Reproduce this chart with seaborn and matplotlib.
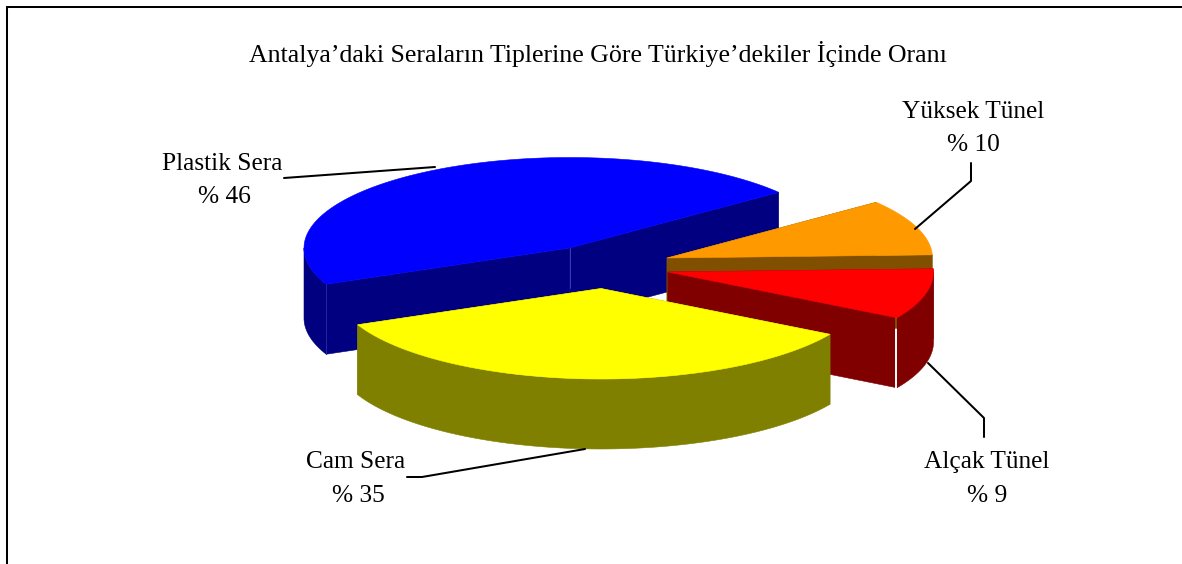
import numpy as np
import matplotlib
matplotlib.use("Agg")
import matplotlib.pyplot as plt
import seaborn as sns

# ---- data ----
categories = ["Yüksek Tünel", "Plastik Sera", "Cam Sera", "Alçak Tünel"]
shares = [10, 46, 35, 9]
top_colors = ["#FF9900", "#0000FF", "#FFFF00", "#FF0000"]
side_colors = ["#805000", "#000080", "#808000", "#800000"]
title_text = "Antalya\u2019daki Seraların Tiplerine Göre Türkiye\u2019dekiler İçinde Oranı"

# ---- layout (pixels) ----
W, H = 1182, 564
START = 2.0
RX, RY, DEPTH = 265.5, 90.5, 70
APEX = [(667, 258), (569.5, 248), (601, 288.5), (668, 272)]
LABEL = [(973, 112), (222, 164), (356, 462), (987, 462)]
PCT = [(973, 145), (224, 197), (358, 496), (987, 496)]
LEAD = [[(915, 229), (971, 181), (971, 163)],
        [(435, 167), (284, 178)],
        [(585, 449), (422, 477), (407, 477)],
        [(928, 363), (984, 418), (984, 437)]]

sns.set_theme(style="white")
plt.rcParams["font.family"] = ["Liberation Serif", "DejaVu Serif"]
fig = plt.figure(figsize=(W / 100, H / 100), dpi=100)
ax = fig.add_axes([0, 0, 1, 1])
ax.set_xlim(0, W); ax.set_ylim(H, 0); ax.axis("off")

# frame: left and top edges only, the others run off the picture
ax.plot([7, 7, W + 2], [H + 2, 7, 7], color="black", lw=1.45, solid_joinstyle="miter")

def arc(c, a, b):
    t = np.radians(np.linspace(a, b, 120))
    return np.column_stack([c[0] + RX * np.cos(t), c[1] - RY * np.sin(t)])

def wall(p, q, color, z):
    p, q = np.atleast_2d(p), np.atleast_2d(q)
    line = np.vstack([p, q])
    poly = np.vstack([line, line[::-1] + [0, DEPTH]])
    ax.fill(poly[:, 0], poly[:, 1], color=color, lw=0.4, zorder=z)

spans = np.cumsum([0] + shares) * 3.6 + START
draw_order = [1, 0, 3, 2]
for z, i in enumerate(draw_order):
    a, b = spans[i], spans[i + 1]
    c = np.array(APEX[i], float)
    rim = arc(c, a, b)
    side, top = side_colors[i], top_colors[i]
    zb = 2 + z * 3
    # cut faces
    wall(c, rim[0], side, zb)
    wall(c, rim[-1], side, zb)
    # outer wall: only the part of the rim facing the viewer
    lo, hi = max(a, 180), min(b, 360)
    if lo < hi:
        wall(arc(c, lo, hi), arc(c, hi, hi)[:0], side, zb + 1)
    poly = np.vstack([c, rim])
    ax.fill(poly[:, 0], poly[:, 1], color=top, lw=0.4, zorder=zb + 2)

# seams seen on the reference
r = arc(APEX[3], spans[3], spans[3])[0]
ax.plot([r[0] - 1] * 2, [r[1] + 10, r[1] + DEPTH + 1], color="white", lw=1.4, zorder=14)
ax.plot([r[0] - 1] * 2, [r[1], r[1] + 10], color="#805000", lw=1.4, zorder=14)
ax.plot([APEX[1][0]] * 2, [APEX[1][1], APEX[1][1] + 40], color="#3A3AB0", lw=0.7, zorder=4)
r = arc(APEX[1], spans[2], spans[2])[0]
ax.plot([r[0]] * 2, [r[1], r[1] + DEPTH], color="#2A2AA0", lw=0.6, zorder=4)

for i, name in enumerate(categories):
    ax.text(*LABEL[i], name, ha="center", va="center", fontsize=18.3, color="black", zorder=30)
    ax.text(*PCT[i], f"% {shares[i]}", ha="center", va="center", fontsize=18.3, color="black", zorder=30)
    xy = np.array(LEAD[i])
    ax.plot(xy[:, 0], xy[:, 1], color="black", lw=1.45, zorder=20)

ax.text(598, 54, title_text, ha="center", va="center", fontsize=18.6, color="black")
fig.savefig("out.png", dpi=100, facecolor="white")
